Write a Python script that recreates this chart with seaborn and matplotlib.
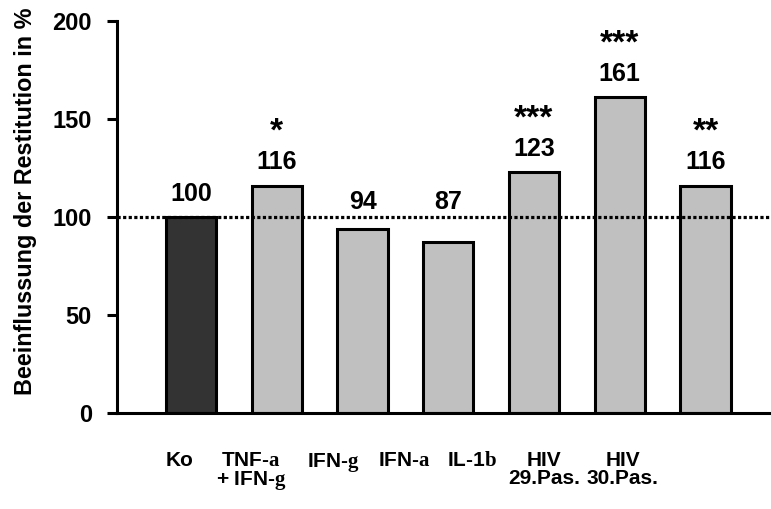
import matplotlib
matplotlib.use("Agg")
import matplotlib.pyplot as plt
import seaborn as sns
import pandas as pd

# ---- data ----
categories = ["Ko", "TNF-a + IFN-g", "IFN-g", "IFN-a", "IL-1b", "HIV 29.Pas.", "HIV 30.Pas."]
values = [100, 116, 94, 87, 123, 161, 116]
stars = ["", "*", "", "", "***", "***", "**"]
tick_labels = [
    "Ko",
    "TNF-$\\mathrm{a}$\n+ IFN-$\\mathrm{g}$",
    "IFN-$\\mathrm{g}$",
    "IFN-$\\mathrm{a}$",
    "IL-1$\\mathrm{b}$",
    "HIV\n29.Pas.",
    "HIV\n30.Pas.",
]
bar_colors = ["#333333", "#c0c0c0", "#c0c0c0", "#c0c0c0", "#c0c0c0", "#c0c0c0", "#c0c0c0"]
reference_level = 100
yticks = [0, 50, 100, 150, 200]

# layout (label positions in category units, not data)
label_pos = [-0.134, 0.70, 1.657, 2.485, 3.277, 4.117, 5.032]

sns.set_theme(style="white")
plt.rcParams["font.family"] = ["Liberation Sans", "DejaVu Sans"]
plt.rcParams["font.weight"] = "bold"
plt.rcParams["text.color"] = "black"
plt.rcParams["axes.labelcolor"] = "black"
plt.rcParams["xtick.color"] = "black"
plt.rcParams["ytick.color"] = "black"
plt.rcParams["mathtext.fontset"] = "custom"
plt.rcParams["mathtext.rm"] = "Liberation Serif"
plt.rcParams["mathtext.it"] = "Liberation Serif:italic"
plt.rcParams["mathtext.bf"] = "Liberation Serif:bold"

df = pd.DataFrame({"cat": categories, "val": values})

fig = plt.figure(figsize=(7.71, 5.09), dpi=100)
ax = fig.add_axes([117 / 771, 1 - 413 / 509, 653 / 771, 392 / 509])

sns.barplot(data=df, x="cat", y="val", hue="cat", palette=bar_colors, legend=False,
            width=0.585, edgecolor="black", linewidth=2.2, saturation=1, ax=ax, zorder=2)

ax.axhline(reference_level, color="black", lw=2.3, ls=(0, (1.0, 0.75)), zorder=5)

for i, (v, s) in enumerate(zip(values, stars)):
    ly = max(v, 96) + 8.3
    ax.text(i, ly, str(v), ha="center", va="baseline", fontsize=18, fontweight="bold",
            color="black", zorder=6)
    if s:
        ax.text(i, ly + 14.5, s, ha="center", va="baseline", fontsize=24, fontweight="bold",
                color="black", zorder=6)

ax.set_xlim(-0.863, 6.752)
ax.set_ylim(0, 200)
ax.set_yticks(yticks)
ax.set_yticklabels([str(t) for t in yticks], fontsize=17, fontweight="bold")
ax.set_xticks(label_pos)
ax.set_xticklabels(tick_labels, fontsize=15, fontweight="bold", linespacing=0.95)
ax.tick_params(axis="x", length=0, pad=27, labelcolor="black")
ax.tick_params(axis="y", direction="out", length=7.5, width=2.2, color="black", pad=10.5,
               left=True, labelcolor="black")
ax.set_xlabel("")
ax.set_ylabel("Beeinflussung der Restitution in %", fontsize=16.8, fontweight="bold", color="black")
ax.yaxis.label.set_verticalalignment("center")
ax.yaxis.set_label_coords(-0.140, 0.54)

for side in ["top", "right"]:
    ax.spines[side].set_visible(False)
for side in ["left", "bottom"]:
    ax.spines[side].set_color("black")
    ax.spines[side].set_linewidth(2.2)

fig.savefig("out.png", dpi=100)
